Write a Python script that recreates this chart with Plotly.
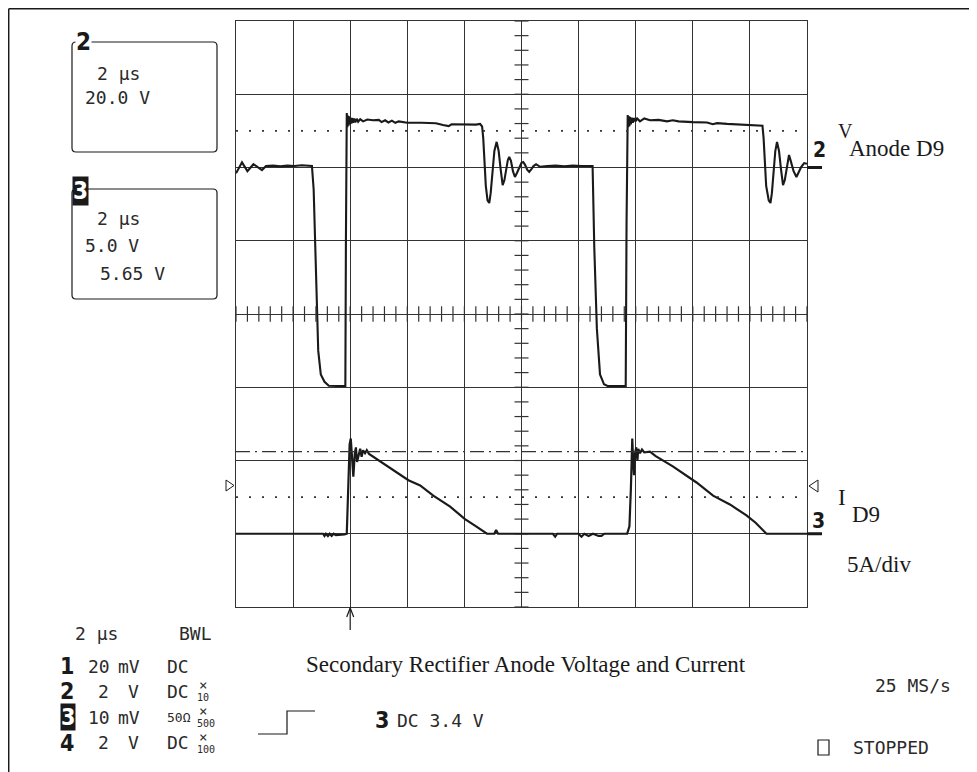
import plotly.graph_objects as go

# ---------------- data ----------------
# Channel 2: anode voltage of D9, time in microseconds, volts (20 V/div)
ch2_t = [0.00, 0.21, 0.40, 0.61, 0.91, 1.05, 1.30, 1.55, 1.80, 2.05, 2.30, 2.50, 2.66,
         2.72, 2.80, 2.88, 2.97, 3.10, 3.25, 3.80, 3.83, 3.85,
         3.88, 3.90, 3.92, 3.94, 3.96, 3.98, 4.01, 4.04, 4.07, 4.10, 4.14, 4.18, 4.23,
         4.28, 4.35, 4.45, 4.60, 4.80, 5.00, 5.10, 5.22, 5.34, 5.46,
         5.58, 5.70, 6.00, 6.50, 7.00, 7.25, 7.45, 7.55, 8.00, 8.40, 8.55,
         8.62, 8.66, 8.70, 8.75, 8.81, 8.87, 8.92, 8.98, 9.05, 9.13, 9.20, 9.27, 9.34,
         9.40, 9.46, 9.52, 9.57, 9.63, 9.70, 9.77, 9.84, 9.92, 10.00, 10.06, 10.12,
         10.20, 10.27, 10.34, 10.42, 10.51, 10.58, 10.65, 10.90, 11.20, 11.50, 11.80, 12.10,
         12.40, 12.49, 12.55, 12.64, 12.75, 12.89, 13.03, 13.65, 13.68,
         13.72, 13.74, 13.76, 13.78, 13.80, 13.83, 13.86, 13.90, 13.94, 13.99, 14.05,
         14.15, 14.30, 14.50, 14.80, 15.10, 15.30,
         15.50, 16.00, 16.50, 16.70, 16.85, 17.20, 17.80, 18.30,
         18.44, 18.48, 18.52, 18.57, 18.66, 18.72, 18.77, 18.83, 18.89, 18.95, 19.02,
         19.09, 19.16, 19.22, 19.28, 19.33, 19.37, 19.43, 19.53, 19.63, 19.70, 19.80,
         19.90, 20.00]
ch2_v = [-1.6, 1.4, -1.0, 0.9, -0.7, 0.4, 0.5, 0.3, 0.5, 0.4, 0.6, 0.4, 0.4,
         -6.0, -30.0, -50.0, -56.5, -58.5, -59.6, -59.7, -59.7, -20.0,
         14.9, 11.0, 14.2, 11.4, 14.0, 11.8, 13.6, 12.0, 13.5, 12.2, 13.4, 12.3, 13.3,
         12.5, 13.2, 12.6, 13.1, 12.9, 13.0, 12.4, 12.9, 12.3, 12.8,
         12.2, 12.6, 12.2, 12.2, 12.1, 11.6, 11.3, 11.8, 11.7, 11.7, 11.9,
         11.2, 8.0, 2.0, -5.0, -9.0, -9.7, -7.0, -1.0, 4.5, 7.0, 4.5, -0.5, -4.8,
         -3.5, -0.5, 2.0, 2.9, 1.8, -1.0, -2.6, -1.5, 0.2, 1.3, 1.5, 0.8,
         -0.6, -1.2, -0.5, 0.4, 0.9, 0.5, 0.2, 0.4, 0.5, 0.3, 0.5, 0.4,
         0.5, 0.4, -22.0, -44.0, -56.5, -59.2, -59.7, -59.7, -15.0,
         14.3, 11.0, 14.0, 11.3, 13.8, 11.8, 13.6, 12.2, 13.5, 12.6, 13.4,
         12.6, 13.4, 12.9, 13.0, 12.6, 12.9,
         12.6, 12.4, 12.3, 11.8, 12.1, 11.9, 11.7, 11.6,
         11.4, 8.0, 2.0, -5.0, -9.0, -9.7, -7.0, -1.0, 4.5, 7.0, 4.5,
         -0.5, -4.8, -3.5, -0.5, 2.0, 3.4, 1.8, -1.0, -2.6, -1.5, 0.2,
         1.2, 1.0]

# Channel 3: diode current, time in microseconds, amps (5 A/div)
ch3_t = [0.00, 1.00, 2.00, 3.05, 3.10, 3.15, 3.22, 3.28, 3.35, 3.42, 3.50, 3.60, 3.80,
         3.88, 3.91, 3.95, 3.98, 4.02, 4.07, 4.11, 4.16, 4.20, 4.24, 4.30, 4.35, 4.40,
         4.45, 4.52, 4.58, 4.66, 4.93, 5.40, 6.04, 6.45, 6.91, 7.50, 8.02, 8.37, 8.66,
         8.79, 9.05, 9.11, 9.18, 11.10, 11.18, 11.25, 12.00, 12.10, 12.20, 12.35, 12.50,
         12.70, 12.80, 12.90, 13.70, 13.78, 13.83, 13.86, 13.88, 13.91, 13.94, 13.98,
         14.02, 14.06, 14.09, 14.15, 14.22, 14.30, 14.50, 14.70, 15.30, 16.13, 16.71,
         17.30, 17.88, 18.20, 18.46, 18.58, 20.00]
ch3_i = [0.0, 0.0, 0.0, 0.0, -0.15, 0.0, -0.15, 0.0, -0.15, 0.0, -0.1, -0.1, -0.05,
         0.0, 2.4, 4.4, 6.1, 6.5, 5.1, 3.9, 5.45, 5.9, 4.9, 5.45, 5.8, 5.25,
         5.7, 5.5, 5.7, 5.45, 5.1, 4.5, 3.65, 3.3, 2.6, 1.85, 1.0, 0.55, 0.18,
         0.0, 0.0, 0.25, 0.0, 0.0, -0.2, 0.0, 0.0, -0.2, 0.0, -0.15, 0.0,
         -0.15, -0.15, 0.0, 0.0, 0.5, 3.0, 5.5, 6.5, 5.0, 4.0, 5.5,
         5.9, 5.0, 5.8, 5.5, 5.75, 5.55, 5.6, 5.3, 4.6, 3.5, 2.6,
         2.0, 1.25, 0.75, 0.2, 0.0, 0.0]

ch2_cursor_v = 10.0      # dotted cursor on channel 2 (V)
ch3_cursor_a = 2.5       # dotted cursor on channel 3 (A)
ch3_level_a = 5.6        # dash-dot level on channel 3 (A)
trigger_t = 4.0          # trigger position (us)

# ---------------- geometry helpers ----------------
# the page has an 8 px body margin, so the figure starts at page (8, 8)
OFF = 8
W, H = 977 - OFF, 772 - OFF
GX0, GY0, GX1, GY1 = 236, 21, 807, 607     # graticule in page pixels
L, T = GX0 - OFF, GY0 - OFF
R, B = 977 - GX1, 772 - GY1
PW = W - L - R
PH = H - T - B


def px(x):
    return (x - OFF - L) / PW


def py(y):
    return (H - B - (y - OFF)) / PH


INK = "#1a1a1a"
GRID = "#333333"
SCOPE = "DejaVu Sans Mono, Liberation Mono, monospace"
NARROW = "Liberation Sans Narrow, DejaVu Sans Condensed, Roboto, sans-serif"
SERIF = "Liberation Serif, Times New Roman, serif"

fig = go.Figure()

fig.add_trace(go.Scatter(x=ch2_t, y=ch2_v, mode="lines", yaxis="y",
                         line=dict(color=INK, width=2.1), hoverinfo="skip", showlegend=False))
fig.add_trace(go.Scatter(x=ch3_t, y=ch3_i, mode="lines", yaxis="y2",
                         line=dict(color=INK, width=2.2), hoverinfo="skip", showlegend=False))

# minor ticks on the centre axes of the graticule
xt = [0.4 * k for k in range(51)]
fig.add_trace(go.Scatter(x=xt, y=[-40] * len(xt), mode="markers", yaxis="y",
                         marker=dict(symbol="line-ns", size=11, line=dict(width=1.2, color=GRID)),
                         hoverinfo="skip", showlegend=False, cliponaxis=False))
yt = [-120 + 4 * k for k in range(41)]
fig.add_trace(go.Scatter(x=[10] * len(yt), y=yt, mode="markers", yaxis="y",
                         marker=dict(symbol="line-ew", size=10, line=dict(width=1.2, color=GRID)),
                         hoverinfo="skip", showlegend=False, cliponaxis=False))

shapes = []
# cursors
shapes.append(dict(type="line", xref="paper", yref="y", x0=0, x1=1, y0=ch2_cursor_v, y1=ch2_cursor_v,
                   line=dict(color=GRID, width=1.6, dash="2px,11px")))
shapes.append(dict(type="line", xref="paper", yref="y2", x0=0, x1=1, y0=ch3_cursor_a, y1=ch3_cursor_a,
                   line=dict(color=GRID, width=1.6, dash="2px,11px")))
shapes.append(dict(type="line", xref="paper", yref="y2", x0=0, x1=1, y0=ch3_level_a, y1=ch3_level_a,
                   line=dict(color=GRID, width=1.2, dash="14px,5px,2px,5px")))

# outer frame (top and left edges)
shapes.append(dict(type="line", xref="paper", yref="paper", x0=px(8.7), x1=px(977), y0=py(8.7), y1=py(8.7),
                   line=dict(color=INK, width=1.5)))
shapes.append(dict(type="line", xref="paper", yref="paper", x0=px(8.7), x1=px(8.7), y0=py(8.7), y1=py(772),
                   line=dict(color=INK, width=1.5)))


def rbox(x0, y0, x1, y1, r=4):
    pts = [
        ("M", x0 + r, y0), ("L", x1 - r, y0), ("Q", x1, y0, x1, y0 + r),
        ("L", x1, y1 - r), ("Q", x1, y1, x1 - r, y1), ("L", x0 + r, y1),
        ("Q", x0, y1, x0, y1 - r), ("L", x0, y0 + r), ("Q", x0, y0, x0 + r, y0),
    ]
    s = ""
    for p in pts:
        if p[0] == "Q":
            s += "Q%.5f,%.5f %.5f,%.5f " % (px(p[1]), py(p[2]), px(p[3]), py(p[4]))
        else:
            s += "%s%.5f,%.5f " % (p[0], px(p[1]), py(p[2]))
    return dict(type="path", xref="paper", yref="paper", path=s + "Z",
                line=dict(color=INK, width=1.2))


shapes.append(rbox(72, 42, 217, 152))
shapes.append(rbox(72, 189, 217, 299))


def ppath(points, close=False, width=1.2):
    s = "M" + " L".join("%.5f,%.5f" % (px(x), py(y)) for x, y in points)
    if close:
        s += " Z"
    return dict(type="path", xref="paper", yref="paper", path=s, line=dict(color=INK, width=width))


# channel ground markers on the right edge
shapes.append(dict(type="line", xref="paper", yref="y", x0=1.0, x1=px(822), y0=0, y1=0,
                   line=dict(color=INK, width=3)))
shapes.append(dict(type="line", xref="paper", yref="y2", x0=1.0, x1=px(822), y0=0, y1=0,
                   line=dict(color=INK, width=3)))

# open triangles
shapes.append(ppath([(226, 480), (234, 485.5), (226, 491)], close=True, width=1))
shapes.append(ppath([(818, 480), (809, 486), (818, 492)], close=True, width=1))

# trigger arrow
xa = px(GX0 + trigger_t / 20 * (GX1 - GX0))
shapes.append(dict(type="line", xref="paper", yref="paper", x0=xa, x1=xa, y0=py(608), y1=py(630),
                   line=dict(color=INK, width=1.2)))
shapes.append(dict(type="path", xref="paper", yref="paper",
                   path="M%.5f,%.5f L%.5f,%.5f L%.5f,%.5f" % (xa - 3.5 / PW, py(617), xa, py(608),
                                                           xa + 3.5 / PW, py(617)),
                   line=dict(color=INK, width=1.2)))

# trigger step symbol
shapes.append(ppath([(258, 734), (287, 734), (287, 711), (315, 711)], width=1.2))
# stopped square
shapes.append(ppath([(818, 740), (829, 740), (829, 755), (818, 755)], close=True, width=1.2))

annotations = []


def txt(x, y, s, size=18, family=SCOPE, color="#2a2a2a", weight="normal", bg=None, anchor="left"):
    d = dict(x=px(x), y=py(y), xref="paper", yref="paper", text=s, showarrow=False,
             xanchor=anchor, yanchor="middle",
             font=dict(size=size, family=family, color=color, weight=weight), borderpad=0)
    if bg:
        d["bgcolor"] = bg
    annotations.append(d)


# boxes on the left
txt(75, 42, "2", size=24, family=NARROW, color=INK, weight="bold", bg="white")
txt(96, 73, "2 µs")
txt(84, 98, "20.0 V")
txt(72, 191, "3", size=24, family=NARROW, color="white", weight="bold", bg=INK)
txt(96, 218, "2 µs")
txt(84, 245, "5.0 V")
txt(99, 273, "5.65 V")

# bottom-left settings
txt(74, 633, "2 µs")
txt(178, 633, "BWL")
rows_y = [666, 691, 717, 743]
txt(59, rows_y[0], "1", size=23, family=NARROW, color=INK, weight="bold")
txt(87, rows_y[0], "20")
txt(117, rows_y[0], "mV")
txt(166, rows_y[0], "DC")
txt(59, rows_y[1], "2", size=23, family=NARROW, color=INK, weight="bold")
txt(97, rows_y[1], "2")
txt(127, rows_y[1], "V")
txt(166, rows_y[1], "DC")
txt(60, rows_y[2], "3", size=23, family=NARROW, color="white", weight="bold", bg=INK)
txt(87, rows_y[2], "10")
txt(117, rows_y[2], "mV")
txt(166, rows_y[2], "50Ω", size=13)
txt(59, rows_y[3], "4", size=23, family=NARROW, color=INK, weight="bold")
txt(97, rows_y[3], "2")
txt(127, rows_y[3], "V")
txt(166, rows_y[3], "DC")
for yy, fac in [(rows_y[1], "10"), (rows_y[2], "500"), (rows_y[3], "100")]:
    txt(198, yy - 6, "×", size=14)
    txt(196, yy + 6, fac, size=10)

# trigger info
txt(374, 720, "3", size=23, family=NARROW, color=INK, weight="bold")
txt(396, 720, "DC 3.4 V")

# caption and right side
txt(305, 664, "Secondary Rectifier Anode Voltage and Current", size=23, family=SERIF, color=INK)
txt(874, 685, "25 MS/s")
txt(852, 747, "STOPPED")
txt(812, 150, "2", size=21, family=NARROW, color=INK, weight="bold")
txt(811, 521, "3", size=21, family=NARROW, color=INK, weight="bold")
txt(837, 131, "V", size=20, family=SERIF, color=INK)
txt(848, 148, "Anode D9", size=23, family=SERIF, color=INK)
txt(837, 497, "I", size=23, family=SERIF, color=INK)
txt(851, 514, "D9", size=23, family=SERIF, color=INK)
txt(846, 564, "5A/div", size=23, family=SERIF, color=INK)

fig.update_layout(
    width=W, height=H, autosize=False,
    margin=dict(l=L, r=R, t=T, b=B, pad=0),
    paper_bgcolor="white", plot_bgcolor="white",
    showlegend=False,
    xaxis=dict(range=[0, 20], dtick=2, tick0=0, showgrid=True, gridcolor=GRID, gridwidth=1.2,
               showticklabels=False, ticks="", zeroline=False, showline=True, mirror=True,
               linecolor=GRID, linewidth=1.2, fixedrange=True),
    yaxis=dict(range=[-120, 40], dtick=20, tick0=0, showgrid=True, gridcolor=GRID, gridwidth=1.2,
               showticklabels=False, ticks="", zeroline=False, showline=True, mirror=True,
               linecolor=GRID, linewidth=1.2, fixedrange=True),
    yaxis2=dict(range=[-5, 35], overlaying="y", side="right", showgrid=False, showticklabels=False,
                ticks="", zeroline=False, showline=False, fixedrange=True),
    shapes=shapes,
    annotations=annotations,
)

fig.write_html("out.html")
